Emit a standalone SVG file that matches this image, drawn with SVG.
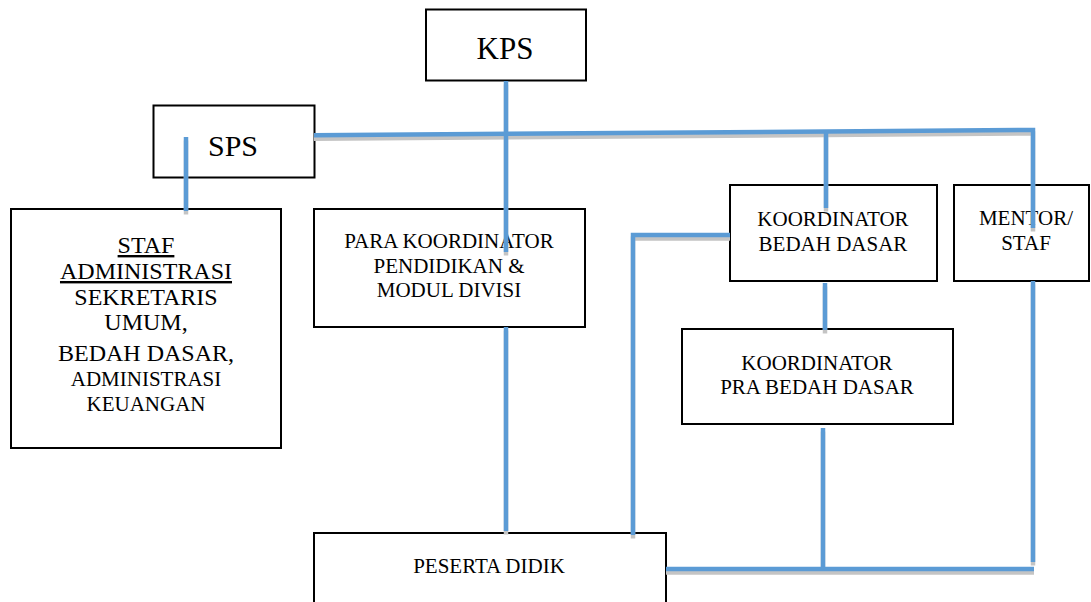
<svg xmlns="http://www.w3.org/2000/svg" width="1091" height="602" viewBox="0 0 1091 602">
<style>
.box{fill:#fff;stroke:#000;stroke-width:2}
.t{font-family:"Liberation Serif","Times New Roman",serif;fill:#000;text-anchor:middle}
.ln{fill:none;stroke:#5B9BD5;stroke-width:4.5;stroke-linejoin:miter;stroke-linecap:butt}
.sh{fill:none;stroke:#C4C4C4;stroke-width:4.5;stroke-linejoin:miter;stroke-linecap:butt}
</style>
<rect width="1091" height="602" fill="#fff"/>
<g id="kps"><rect class="box" x="426" y="9.5" width="160" height="71"/><text class="t" x="505" y="59" font-size="31">KPS</text></g>
<g id="sps"><rect class="box" x="153.5" y="105.5" width="161" height="72"/><text class="t" x="233" y="155.5" font-size="30">SPS</text></g>
<g id="staf-administrasi"><rect class="box" x="11" y="209" width="270" height="239"/>
<text class="t" font-size="24"><tspan x="146" y="253" text-decoration="underline">STAF</tspan><tspan x="146" y="279" text-decoration="underline">ADMINISTRASI</tspan><tspan x="146" y="305">SEKRETARIS</tspan><tspan x="146" y="330">UMUM,</tspan><tspan x="146" y="361">BEDAH DASAR,</tspan></text>
<text class="t" font-size="21"><tspan x="146" y="386">ADMINISTRASI</tspan><tspan x="146" y="411">KEUANGAN</tspan></text></g>
<g id="para-koordinator"><rect class="box" x="314" y="209" width="271" height="118"/>
<text class="t" font-size="21"><tspan x="449" y="248">PARA KOORDINATOR</tspan><tspan x="449" y="273">PENDIDIKAN &amp;</tspan><tspan x="449" y="297">MODUL DIVISI</tspan></text></g>
<g id="koordinator-bedah-dasar"><rect class="box" x="730" y="185" width="207" height="96"/>
<text class="t" font-size="21"><tspan x="833" y="226">KOORDINATOR</tspan><tspan x="833" y="251">BEDAH DASAR</tspan></text></g>
<g id="mentor-staf"><rect class="box" x="954" y="185" width="135" height="96"/>
<text class="t" font-size="21"><tspan x="1026" y="225">MENTOR/</tspan><tspan x="1026" y="250">STAF</tspan></text></g>
<g id="koordinator-pra-bedah-dasar"><rect class="box" x="682" y="329" width="271" height="95"/>
<text class="t" font-size="21"><tspan x="817" y="370">KOORDINATOR</tspan><tspan x="817" y="394">PRA BEDAH DASAR</tspan></text></g>
<g id="peserta-didik"><rect class="box" x="314" y="533" width="352" height="80"/>
<text class="t" font-size="21" x="489" y="572.5">PESERTA DIDIK</text></g>
<g id="connectors">
<g transform="translate(0,3.5)">
<path class="sh" d="M186,137 V211"/>
<path class="sh" d="M314,135.2 L1033,130 V228"/>
<path class="sh" d="M506,81 V252"/>
<path class="sh" d="M506,327 V531"/>
<path class="sh" d="M826,133 V208"/>
<path class="sh" d="M825,283 V330"/>
<path class="sh" d="M730,235 H633 V535"/>
<path class="sh" d="M823,428 V569"/>
<path class="sh" d="M1033,281 V562"/>
<path class="sh" d="M666,569 H1034"/>
</g>
<path class="ln" d="M186,137 V211"/>
<path class="ln" d="M314,135.2 L1033,130 V228"/>
<path class="ln" d="M506,81 V252"/>
<path class="ln" d="M506,327 V531"/>
<path class="ln" d="M826,133 V208"/>
<path class="ln" d="M825,283 V330"/>
<path class="ln" d="M730,235 H633 V535"/>
<path class="ln" d="M823,428 V569"/>
<path class="ln" d="M1033,281 V562"/>
<path class="ln" d="M666,569 H1034"/>
</g>
</svg>
